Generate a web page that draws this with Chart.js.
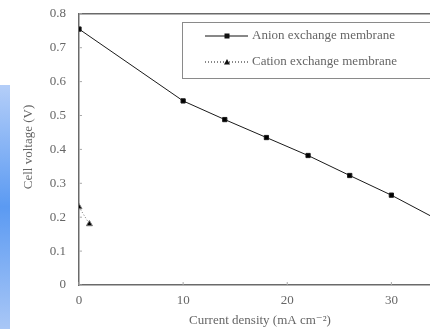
<!DOCTYPE html>
<html>
<head>
<meta charset="utf-8">
<script src="https://cdn.jsdelivr.net/npm/chart.js"></script>
<style>
  html, body { margin: 0; padding: 0; background: #fff; overflow: hidden; }
  #wrap { position: absolute; left: 0; top: -7px; width: 510px; height: 336px; }
  #side { position: absolute; left: 0; top: 85px; width: 10px; height: 244px;
          background: linear-gradient(#b4cef8, #5b9af2 50%, #a9c7f6); z-index: 2; }
</style>
</head>
<body>
<div id="side"></div>
<div id="wrap"><canvas id="chart"></canvas></div>
<script>
// values
const anionX = [0, 10, 14, 18, 22, 26, 30, 34];
const anionY = [0.755, 0.543, 0.488, 0.435, 0.382, 0.323, 0.265, 0.2];
const cationX = [0, 1];
const cationY = [0.23, 0.18];
const xTicks = [0, 10, 20, 30, 40];
const yTicks = [0, 0.1, 0.2, 0.3, 0.4, 0.5, 0.6, 0.7, 0.8];
const seriesNames = ['Anion exchange membrane', 'Cation exchange membrane'];
const xTitle = 'Current density (mA cm\u207B\u00B2)';
const yTitle = 'Cell voltage (V)';

const serif = '"Liberation Serif", "DejaVu Serif", serif';
const axisColor = '#6a6a6a';
const textColor = '#666';
const OFF = 7; // canvas is shifted up by this much

function toPoints(xs, ys) {
    return xs.map((x, i) => ({ x: x, y: ys[i] }));
}

// inward ticks, top border, axis titles and the framed legend
const frame = {
    id: 'frame',
    afterDraw(chart) {
        const ctx = chart.ctx;
        const area = chart.chartArea;
        const xs = chart.scales.x, ys = chart.scales.y;
        ctx.save();
        ctx.strokeStyle = axisColor;
        ctx.lineWidth = 1.5;
        ctx.beginPath();
        ctx.moveTo(area.left, area.top);
        ctx.lineTo(area.right, area.top);
        ctx.stroke();
        ctx.lineWidth = 1;
        ctx.strokeStyle = '#aaa';
        yTicks.forEach(v => {
            const py = ys.getPixelForValue(v);
            ctx.beginPath();
            ctx.moveTo(area.left, py);
            ctx.lineTo(area.left + 3, py);
            ctx.stroke();
        });
        xTicks.forEach(v => {
            const px = xs.getPixelForValue(v);
            ctx.beginPath();
            ctx.moveTo(px, area.bottom);
            ctx.lineTo(px, area.bottom - 3);
            ctx.stroke();
        });

        // axis titles
        ctx.fillStyle = textColor;
        ctx.font = '13px ' + serif;
        ctx.textAlign = 'center';
        ctx.textBaseline = 'middle';
        ctx.fillText(xTitle, 260, 321 + OFF);
        ctx.save();
        ctx.translate(29, 147 + OFF);
        ctx.rotate(-Math.PI / 2);
        ctx.fillText(yTitle, 0, 0);
        ctx.restore();

        // legend box
        const bx = 182, by = 22 + OFF, bh = 56;
        ctx.strokeStyle = '#8a8a8a';
        ctx.lineWidth = 1;
        ctx.strokeRect(bx + 0.5, by + 0.5, 400, bh);
        const rows = [36 + OFF, 62 + OFF];
        ctx.textAlign = 'left';
        chart.data.datasets.forEach((ds, i) => {
            const y = rows[i];
            ctx.strokeStyle = '#111';
            ctx.lineWidth = 1;
            ctx.setLineDash(ds.borderDash || []);
            ctx.beginPath();
            ctx.moveTo(205, y);
            ctx.lineTo(248, y);
            ctx.stroke();
            ctx.setLineDash([]);
            ctx.fillStyle = '#111';
            if (ds.pointStyle === 'triangle') {
                ctx.beginPath();
                ctx.moveTo(227, y - 3);
                ctx.lineTo(230, y + 2.5);
                ctx.lineTo(224, y + 2.5);
                ctx.closePath();
                ctx.fill();
            } else {
                ctx.fillRect(224.5, y - 2.5, 5, 5);
            }
            ctx.fillStyle = textColor;
            ctx.font = '13px ' + serif;
            ctx.fillText(ds.label, 252, y);
        });
        ctx.restore();
    }
};

new Chart(document.getElementById('chart'), {
    type: 'line',
    data: {
        datasets: [{
            label: seriesNames[0],
            data: toPoints(anionX, anionY),
            borderColor: '#1a1a1a',
            borderWidth: 1,
            backgroundColor: '#000',
            pointStyle: 'rect',
            pointRadius: 3,
            tension: 0
        }, {
            label: seriesNames[1],
            data: toPoints(cationX, cationY),
            borderColor: '#777',
            borderWidth: 1,
            borderDash: [1, 2],
            backgroundColor: '#000',
            pointStyle: 'triangle',
            pointRadius: 3.5,
            tension: 0
        }]
    },
    options: {
        responsive: true,
        maintainAspectRatio: false,
        animation: false,
        layout: { padding: { left: 0, top: 0, right: 7, bottom: 0 } },
        plugins: { legend: { display: false }, tooltip: { enabled: false } },
        scales: {
            x: {
                type: 'linear',
                min: 0, max: 40,
                afterBuildTicks: s => { s.ticks = xTicks.map(v => ({ value: v })); },
                afterFit: s => { s.height = 44; },
                grid: { display: false, drawTicks: false },
                border: { display: true, color: axisColor, width: 1.5 },
                ticks: { padding: 8, color: textColor, font: { family: serif, size: 13 } }
            },
            y: {
                min: 0, max: 0.8,
                afterBuildTicks: s => { s.ticks = yTicks.map(v => ({ value: v })); },
                afterFit: s => { s.width = 79; },
                grid: { display: false, drawTicks: false },
                border: { display: true, color: axisColor, width: 1.5 },
                ticks: { padding: 13, color: textColor, font: { family: serif, size: 13 } }
            }
        }
    },
    plugins: [frame]
});
</script>
</body>
</html>
